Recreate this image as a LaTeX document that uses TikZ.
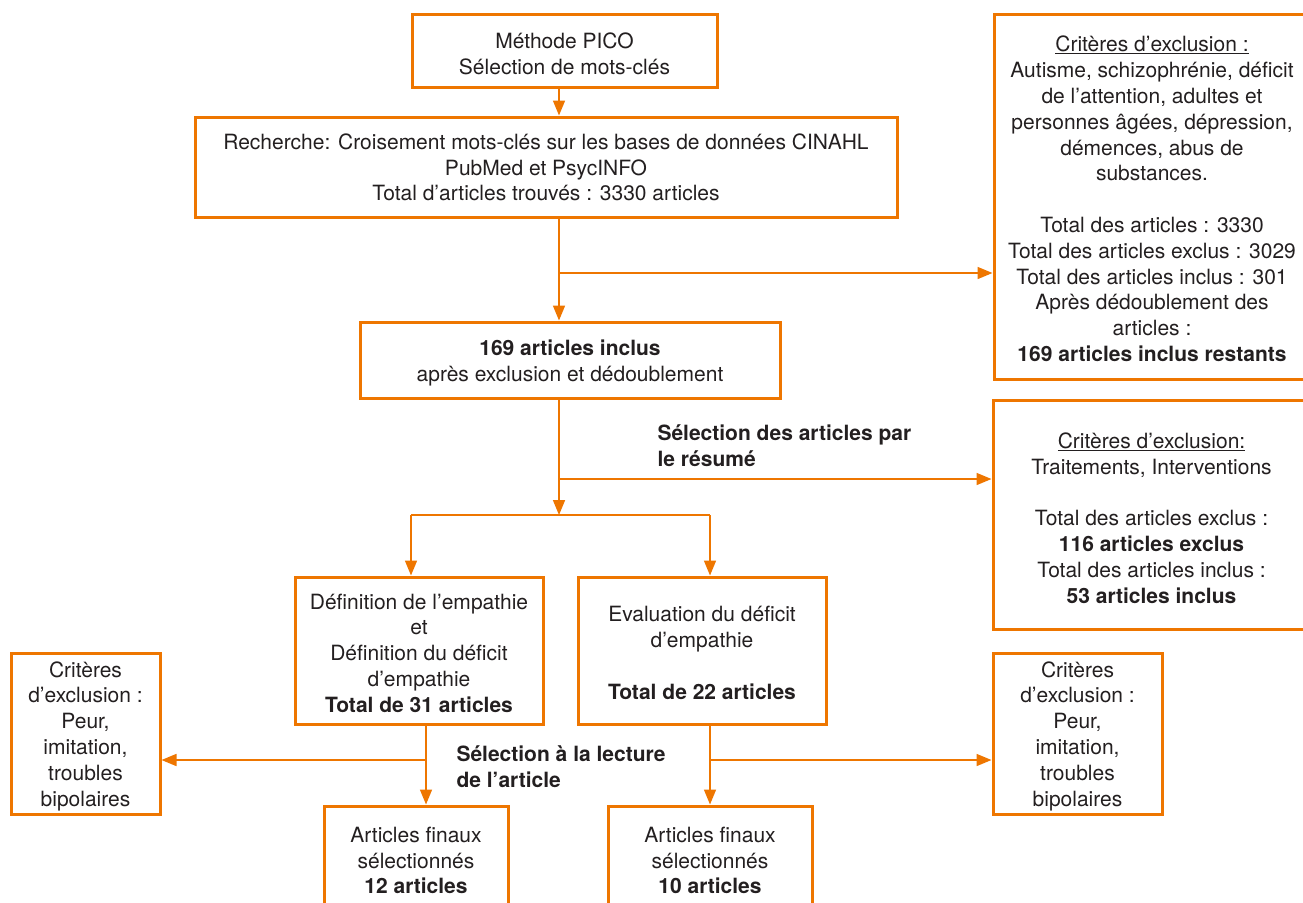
\documentclass[tikz,border=0pt]{standalone}
\usepackage{fontspec}
\setmainfont{TeX Gyre Heros}
\usetikzlibrary{arrows.meta}
\definecolor{pcorange}{RGB}{238,118,0}
\definecolor{pctext}{RGB}{35,31,32}
\newcommand{\boxtext}[2][5pt]{\raisebox{-#1}[\height][\depth]{\begin{tabular}{@{}c@{}}#2\end{tabular}}}

\begin{document}
\begin{tikzpicture}[x=1pt,y=-1pt,
        font=\fontsize{21}{25.8}\selectfont, text=pctext,
        box/.style={draw=pcorange, line width=3pt, inner sep=0pt},
        ln/.style={draw=pcorange, line width=1.6pt},
        arr/.style={ln, -{Triangle[length=15pt,width=12pt]}},
        lab/.style={anchor=west, align=left, font=\fontsize{21}{25.8}\selectfont\bfseries}]
        \useasboundingbox (0,0) rectangle (1303,902);
        \clip (0,0) rectangle (1303,902);

        % main column
        \node[box, minimum width=305, minimum height=73] (pico) at (564.5,50.5) {\boxtext[6pt]{Méthode PICO\\Sélection de mots-clés}};
        \node[box, minimum width=702, minimum height=100] (rech) at (546,167) {\boxtext[3pt]{Recherche: Croisement mots-clés sur les bases de données CINAHL\\PubMed et PsycINFO\\Total d’articles trouvés : 3330 articles}};
        \node[box, minimum width=420, minimum height=76] (inc) at (570,360) {\boxtext[3.5pt]{\textbf{169 articles inclus}\\après exclusion et dédoublement}};
        \node[box, minimum width=248, minimum height=147] (def) at (419,650.5) {\boxtext{Définition de l’empathie\\et\\Définition du déficit\\d’empathie\\\textbf{Total de 31 articles}}};
        \node[box, minimum width=248, minimum height=147] (eval) at (702,650.5) {\boxtext{Evaluation du déficit\\d’empathie\\[25.8pt]\textbf{Total de 22 articles}}};
        \node[box, minimum width=184, minimum height=100] (fin1) at (416,856) {\boxtext[7pt]{Articles finaux\\sélectionnés\\\textbf{12 articles}}};
        \node[box, minimum width=204, minimum height=100] (fin2) at (710,856) {\boxtext[7pt]{Articles finaux\\sélectionnés\\\textbf{10 articles}}};

        % exclusion boxes
        \node[box, minimum width=316, minimum height=365] (critA) at (1152,196.5) {\boxtext{\underline{Critères d’exclusion :}\\Autisme, schizophrénie, déficit\\de l’attention, adultes et\\personnes âgées, dépression,\\démences, abus de\\substances.\\[25.8pt]Total des articles : 3330\\Total des articles exclus : 3029\\Total des articles inclus : 301\\Après dédoublement des\\articles :\\\textbf{169 articles inclus restants}}};
        \node[box, minimum width=317, minimum height=229] (critB) at (1151.5,514.5) {\boxtext[6pt]{\underline{Critères d’exclusion:}\\Traitements, Interventions\\[25.8pt]Total des articles exclus :\\\textbf{116 articles exclus}\\Total des articles inclus :\\\textbf{53 articles inclus}}};
        \node[box, minimum width=149, minimum height=161] (critL) at (85.5,733.5) {\boxtext[3pt]{Critères\\d’exclusion :\\Peur,\\imitation,\\troubles\\bipolaires}};
        \node[box, minimum width=169, minimum height=161] (critR) at (1077.5,733.5) {\boxtext[3pt]{Critères\\d’exclusion :\\Peur,\\imitation,\\troubles\\bipolaires}};

        % selection labels
        \node[lab] (labres) at (654,446) {Sélection des articles par\\le résumé};
        \node[lab] (lablec) at (453,767) {Sélection à la lecture\\de l’article};

        % connectors
        \coordinate (sx) at (559,0);
        \draw[arr] (pico.south -| sx) -- (rech.north -| sx);
        \draw[arr] (rech.south -| sx) -- (inc.north -| sx);
        \coordinate (b1) at (559,273);
        \draw[arr] (b1) -- (b1 -| critA.west);
        \coordinate (split) at (559,515);
        \draw[arr] (inc.south -| sx) -- (split);
        \coordinate (b2) at (559,479);
        \draw[arr] (b2) -- (b2 -| critB.west);
        \coordinate (sl) at (411,515);
        \coordinate (sr) at (710,515);
        \draw[ln] (sl) -- (sr);
        \draw[arr] (sl) -- (sl |- def.north);
        \draw[arr] (sr) -- (sr |- eval.north);
        \coordinate (dx) at (426,760);
        \draw[arr] (def.south -| dx) -- (fin1.north -| dx);
        \draw[arr] (dx) -- (critL.east |- dx);
        \coordinate (ex) at (710,760);
        \draw[arr] (eval.south -| ex) -- (fin2.north -| ex);
        \draw[arr] (ex) -- (critR.west |- ex);
\end{tikzpicture}
\end{document}
